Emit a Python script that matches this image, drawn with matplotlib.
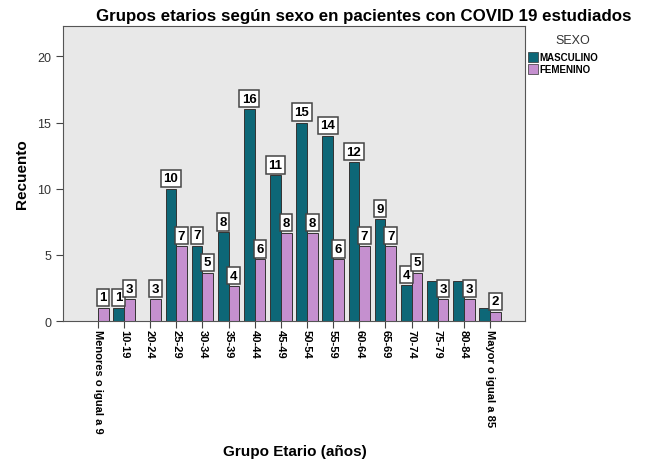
import numpy as np
import matplotlib.pyplot as plt

plt.rcParams['font.family'] = ['Liberation Sans', 'DejaVu Sans']

grupos = ["Menores o igual a 9", "10-19", "20-24", "25-29", "30-34", "35-39",
          "40-44", "45-49", "50-54", "55-59", "60-64", "65-69", "70-74",
          "75-79", "80-84", "Mayor o igual a 85"]

# counts shown in the label boxes (None = no bar)
masc_n = [None, 1, None, 10, 7, 8, 16, 11, 15, 14, 12, 9, 4, 3, 3, 1]
fem_n = [1, 3, 3, 7, 5, 4, 6, 8, 8, 6, 7, 7, 5, 3, 3, 2]

# bar heights as drawn in the chart
masc_h = [0, 1, 0, 10, 5.7, 6.7, 16, 11, 15, 14, 12, 7.7, 2.7, 3, 3, 1]
fem_h = [1, 1.65, 1.65, 5.65, 3.65, 2.65, 4.65, 6.65, 6.65, 4.65, 5.65, 5.65,
         3.65, 1.65, 1.65, 0.7]

# bars drawn without a label box
sin_caja = {("M", 13), ("M", 14), ("M", 15)}

c_masc = "#0d6777"
c_fem = "#c590cf"

fig = plt.figure(figsize=(6.47, 4.64), dpi=100)
ax = fig.add_axes([0.0974, 0.306, 0.714, 0.636])
ax.set_facecolor("#e8e8e8")

x = np.arange(len(grupos))
w = 0.41
ax.bar(x - w / 2, masc_h, w, color=c_masc, edgecolor="#333333", linewidth=0.7)
ax.bar(x + w / 2, fem_h, w, color=c_fem, edgecolor="#333333", linewidth=0.7)

box = dict(boxstyle="square,pad=0.2", fc="white", ec="#444444", lw=1.1)
for i in range(len(grupos)):
    if masc_n[i] is not None and ("M", i) not in sin_caja:
        ax.annotate(str(masc_n[i]), (x[i] - w / 2, masc_h[i]), xytext=(0, 3.2),
                    textcoords="offset points", ha="center", va="bottom",
                    fontsize=9.5, fontweight="bold", bbox=box)
    if fem_n[i] is not None:
        ax.annotate(str(fem_n[i]), (x[i] + w / 2, fem_h[i]), xytext=(0, 3.2),
                    textcoords="offset points", ha="center", va="bottom",
                    fontsize=9.5, fontweight="bold", bbox=box)

ax.set_xlim(-1.33, 16.34)
ax.set_ylim(0, 22.3)
ax.set_yticks([0, 5, 10, 15, 20])
ax.tick_params(axis="y", labelsize=9, labelcolor="#333333", length=5, color="#444444")
ax.set_xticks(x)
ax.set_xticklabels(grupos, rotation=-90, fontsize=8, fontweight="bold", va="top", ha="center")
ax.tick_params(axis="x", length=5, color="#444444", pad=1)
for s in ax.spines.values():
    s.set_color("#555555")

ax.set_ylabel("Recuento", fontsize=11, fontweight="bold", labelpad=6)
fig.text(0.455, 0.017, "Grupo Etario (años)", ha="center", fontsize=11, fontweight="bold")
fig.text(0.562, 0.965, "Grupos etarios según sexo en pacientes con COVID 19 estudiados",
         ha="center", va="center", fontsize=12.2, fontweight="bold")

# legend
fig.text(0.885, 0.912, "SEXO", ha="center", va="center", fontsize=9, color="#333333")
fig.patches.append(plt.Rectangle((0.816, 0.865), 0.015, 0.021, color=c_masc,
                                 ec="#333333", lw=0.5, transform=fig.transFigure))
fig.patches.append(plt.Rectangle((0.816, 0.839), 0.015, 0.021, fc=c_fem,
                                 ec="#333333", lw=0.5, transform=fig.transFigure))
fig.text(0.833, 0.875, "MASCULINO", va="center", fontsize=7, fontweight="bold")
fig.text(0.833, 0.849, "FEMENINO", va="center", fontsize=7, fontweight="bold")

fig.savefig("out.png", dpi=100)
